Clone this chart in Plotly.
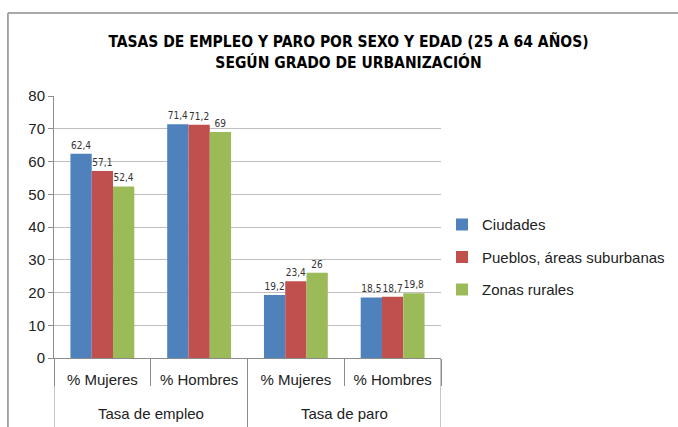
import plotly.graph_objects as go

groups = ["Tasa de empleo", "Tasa de empleo", "Tasa de paro", "Tasa de paro"]
subcats = ["% Mujeres", "% Hombres", "% Mujeres", "% Hombres"]
series_names = ["Ciudades", "Pueblos, áreas suburbanas", "Zonas rurales"]
ciudades = [62.4, 71.4, 19.2, 18.5]
pueblos = [57.1, 71.2, 23.4, 18.7]
rurales = [52.4, 69, 26, 19.8]
colors = ["#4F81BD", "#C0504D", "#9BBB59"]
y_ticks = [0, 10, 20, 30, 40, 50, 60, 70, 80]

FONT = "Liberation Sans"
NARROW = "DejaVu Sans Condensed, Liberation Sans"
positions = list(range(len(subcats)))


def fmt(v):
    return ("%g" % v).replace(".", ",")


fig = go.Figure()
for name, vals, col in zip(series_names, [ciudades, pueblos, rurales], colors):
    fig.add_trace(go.Bar(
        x=positions, y=vals, name=name, legendgroup=name,
        marker=dict(color=col, line=dict(width=0)),
        text=[fmt(v) for v in vals], textposition="outside",
        textfont=dict(family=NARROW, size=10, color="#333333"),
        cliponaxis=False,
    ))

fig.update_layout(
    width=678, height=427,
    margin=dict(l=54, r=237, t=96, b=69, autoexpand=False),
    paper_bgcolor="white", plot_bgcolor="white",
    barmode="group", bargap=0.34, bargroupgap=0,
    title=dict(
        text="TASAS DE EMPLEO Y PARO POR SEXO Y EDAD (25 A 64 AÑOS)<br>SEGÚN GRADO DE URBANIZACIÓN",
        x=0.514, xanchor="center", y=0.889, yanchor="middle",
        font=dict(family=NARROW, size=15.5, color="#000000", weight="bold"),
    ),
    showlegend=True,
    legend=dict(
        xref="container", x=442 / 678, xanchor="left", y=0.385, yanchor="middle",
        font=dict(family=FONT, size=15, color="#222222"),
        traceorder="grouped", tracegroupgap=10, bgcolor="rgba(0,0,0,0)",
    ),
    font=dict(family=FONT, color="#222222"),
)
fig.update_yaxes(
    range=[0, 80], tickvals=y_ticks, showgrid=True, gridcolor="#BFBFBF", gridwidth=1,
    showline=True, linecolor="#8C8C8C", linewidth=1, ticks="outside", ticklen=5,
    tickcolor="#8C8C8C", tickfont=dict(family=FONT, size=15, color="#222222"),
    zeroline=False,
)
fig.update_xaxes(
    range=[-0.5, len(subcats) - 0.5], tickvals=positions, ticktext=subcats,
    showline=True, linecolor="#8C8C8C", linewidth=1, showgrid=False, zeroline=False,
    ticks="", ticklabelstandoff=8,
    minor=dict(tick0=-0.5, dtick=1, ticks="outside", ticklen=27, tickcolor="#8C8C8C", showgrid=False),
    tickfont=dict(family=FONT, size=15, color="#222222"),
)

# group labels and group dividers of the two-level category axis
boundaries = [-0.5]
start = 0
for i in range(1, len(groups) + 1):
    if i == len(groups) or groups[i] != groups[i - 1]:
        fig.add_annotation(
            x=(start + i - 1) / 2, xref="x", y=-0.21, yref="paper", yanchor="middle",
            text=groups[start], showarrow=False,
            font=dict(family=FONT, size=15, color="#222222"),
        )
        boundaries.append(i - 0.5)
        start = i
for b in boundaries:
    fig.add_shape(type="line", xref="x", yref="paper", x0=b, x1=b, y0=0, y1=-0.3,
                  line=dict(color="#8C8C8C", width=1))

# outer chart frame (top and left edges)
fig.add_shape(type="line", xref="paper", yref="paper", x0=-0.119, x1=1.7, y0=1.317, y1=1.317,
              line=dict(color="#8C8C8C", width=1.5))
fig.add_shape(type="line", xref="paper", yref="paper", x0=-0.119, x1=-0.119, y0=1.317, y1=-0.3,
              line=dict(color="#8C8C8C", width=1.5))

fig.write_html("out.html", config={"displayModeBar": False},
               post_script="document.body.style.margin='0px';")
